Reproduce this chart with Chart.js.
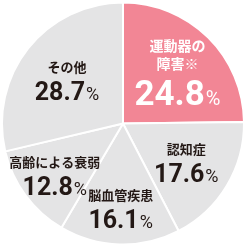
<!DOCTYPE html>
<html>
<head>
<meta charset="utf-8">
<script src="https://cdn.jsdelivr.net/npm/chart.js@4/dist/chart.umd.min.js"></script>
<style>
html, body { margin: 0; padding: 0; background: #fff; }
canvas { display: block; }
</style>
</head>
<body>
<canvas id="myChart" width="246" height="247"></canvas>
<script>
// chart data
const categories = [["運動器の", "障害※"], ["認知症"], ["脳血管疾患"], ["高齢による衰弱"], ["その他"]];
const shares = [24.8, 17.6, 16.1, 12.8, 28.7];

const sliceColors = ["#f28695", "#e4e4e5", "#e4e4e5", "#e4e4e5", "#e4e4e5"];
const textColors = ["#ffffff", "#231815", "#231815", "#231815", "#231815"];
// how far out the label sits, as a part of the radius
const labelReach = [0.64, 0.61, 0.69, 0.70, 0.59];

const jpFont = '"Noto Sans CJK JP", "Noto Sans", sans-serif';
const numFont = 'Roboto, "Liberation Sans", sans-serif';

let sliceLabels = {
    id: "sliceLabels",
    afterDatasetsDraw(chart) {
        let ctx = chart.ctx;
        let arcs = chart.getDatasetMeta(0).data;
        arcs.forEach((arc, i) => {
            let p = arc.getProps(["x", "y", "startAngle", "endAngle", "outerRadius"], true);
            let mid = (p.startAngle + p.endAngle) / 2;
            let cx = p.x + Math.cos(mid) * p.outerRadius * labelReach[i];
            let cy = p.y + Math.sin(mid) * p.outerRadius * labelReach[i];
            let big = i === 0;
            let lines = categories[i];
            ctx.save();
            ctx.fillStyle = textColors[i];
            ctx.textAlign = "center";
            ctx.textBaseline = "middle";
            ctx.font = "bold " + (big ? 14 : 13) + "px " + jpFont;
            let lineGap = 18;
            let numSize = big ? 35 : 25;
            let pctSize = big ? 20 : 18;
            let firstY = cy - (big ? 23 : 12);
            lines.forEach((line, k) => {
                ctx.fillText(line, cx, firstY + k * lineGap);
            });
            // number and a lighter, smaller percent sign
            let numY = big ? cy + 24 : cy + 12;
            let numText = shares[i].toFixed(1);
            ctx.font = "bold " + numSize + "px " + numFont;
            let w1 = ctx.measureText(numText).width;
            ctx.font = "400 " + pctSize + "px " + numFont;
            let w2 = ctx.measureText("%").width;
            let left = cx - (w1 + w2 + 1) / 2;
            ctx.textAlign = "left";
            ctx.textBaseline = "alphabetic";
            let base = numY + numSize * 0.355;
            ctx.font = "bold " + numSize + "px " + numFont;
            ctx.fillText(numText, left, base);
            ctx.font = "400 " + pctSize + "px " + numFont;
            ctx.fillText("%", left + w1 + 1, base);
            ctx.restore();
        });
    }
};

let myChart = new Chart("myChart", {
    type: "pie",
    data: {
        labels: categories.map(c => c.join("")),
        datasets: [{
            data: shares,
            backgroundColor: sliceColors,
            borderColor: "#ffffff",
            borderWidth: 2
        }]
    },
    options: {
        responsive: false,
        animation: false,
        layout: { padding: 1 },
        plugins: {
            legend: { display: false },
            tooltip: { enabled: false }
        }
    },
    plugins: [sliceLabels]
});
</script>
</body>
</html>
